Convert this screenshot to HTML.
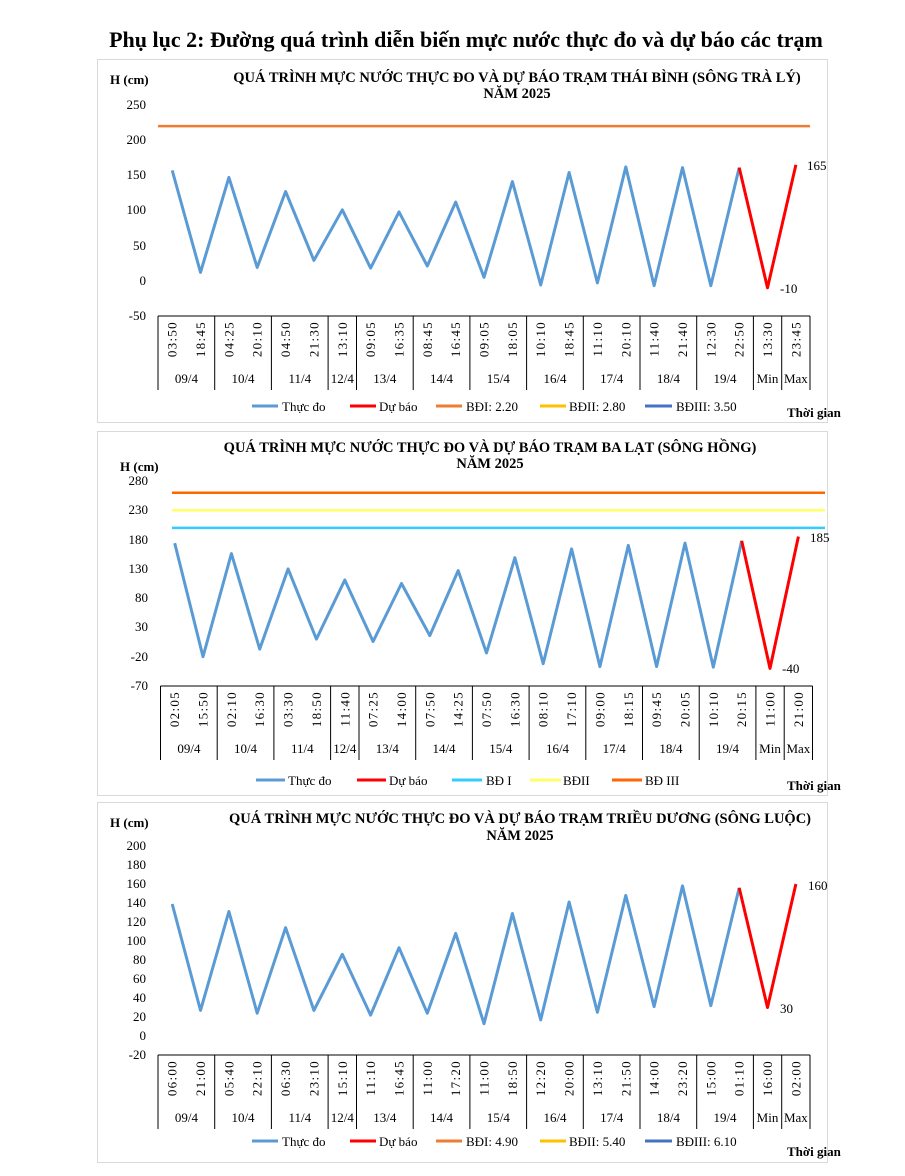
<!DOCTYPE html>
<html><head><meta charset="utf-8"><style>
body{margin:0;background:#fff;}
svg{display:block;font-family:"Liberation Serif",serif;}
.t{font-size:13px;fill:#000;letter-spacing:1.3px}
.k{font-size:13px;fill:#000}
.b{font-weight:bold}
.h{font-weight:bold;font-size:14.5px}
</style></head><body>
<svg width="905" height="1176" viewBox="0 0 905 1176" xmlns="http://www.w3.org/2000/svg">
<rect width="905" height="1176" fill="#fff"/>
<text x="466" y="47" text-anchor="middle" class="b" font-size="22">Phụ lục 2: Đường quá trình diễn biến mực nước thực đo và dự báo các trạm</text>

<!-- CHART 1 -->
<rect x="97.5" y="59.5" width="730" height="363" fill="none" stroke="#d9d9d9"/>
<text x="110" y="84" class="b" font-size="13">H (cm)</text>
<text x="517" y="82" text-anchor="middle" class="h">QUÁ TRÌNH MỰC NƯỚC THỰC ĐO VÀ DỰ BÁO TRẠM THÁI BÌNH (SÔNG TRÀ LÝ)</text>
<text x="517" y="98" text-anchor="middle" class="h">NĂM 2025</text>
<g class="k" text-anchor="end">
<text x="146" y="109">250</text><text x="146" y="144">200</text><text x="146" y="179">150</text><text x="146" y="214">100</text><text x="146" y="250">50</text><text x="146" y="285">0</text><text x="146" y="320">-50</text>
</g>
<line x1="158" y1="126.1" x2="810" y2="126.1" stroke="#ed7d31" stroke-width="2.5"/>
<line x1="158" y1="316" x2="810" y2="316" stroke="#000" stroke-width="1"/>
<polyline fill="none" stroke="#5b9bd5" stroke-width="3" stroke-linejoin="round" points="172.2,170.4 200.5,272.4 228.9,177.4 257.2,267.4 285.6,191.5 313.9,260.4 342.3,209.8 370.6,268.1 399,211.9 427.3,266 455.7,202 484,277.3 512.4,181.6 540.7,285 569.1,172.5 597.4,282.9 625.8,166.9 654.1,285.7 682.5,167.6 710.8,285.7 739.2,167.6"/>
<polyline fill="none" stroke="#ff0000" stroke-width="3" stroke-linejoin="round" points="739.2,167.6 767.5,287.8 795.9,164.8"/>
<text x="807" y="170" class="k">165</text>
<text x="780" y="293" class="k">-10</text>
<g id="xa1">
<g stroke="#000" stroke-width="1">
<line x1="158" y1="316" x2="158" y2="390"/><line x1="214.7" y1="316" x2="214.7" y2="390"/><line x1="271.4" y1="316" x2="271.4" y2="390"/><line x1="328.1" y1="316" x2="328.1" y2="390"/><line x1="356.5" y1="316" x2="356.5" y2="390"/><line x1="413.2" y1="316" x2="413.2" y2="390"/><line x1="469.9" y1="316" x2="469.9" y2="390"/><line x1="526.6" y1="316" x2="526.6" y2="390"/><line x1="583.3" y1="316" x2="583.3" y2="390"/><line x1="640" y1="316" x2="640" y2="390"/><line x1="696.7" y1="316" x2="696.7" y2="390"/><line x1="753.4" y1="316" x2="753.4" y2="390"/><line x1="781.7" y1="316" x2="781.7" y2="390"/><line x1="810" y1="316" x2="810" y2="390"/>
</g>
<g class="k" text-anchor="middle">
<text x="186.4" y="383">09/4</text><text x="243" y="383">10/4</text><text x="299.8" y="383">11/4</text><text x="342.3" y="383">12/4</text><text x="384.8" y="383">13/4</text><text x="441.5" y="383">14/4</text><text x="498.3" y="383">15/4</text><text x="555" y="383">16/4</text><text x="611.7" y="383">17/4</text><text x="668.4" y="383">18/4</text><text x="725" y="383">19/4</text><text x="767.5" y="383">Min</text><text x="795.9" y="383">Max</text>
</g>
</g>
<g class="t" text-anchor="end">
<text transform="translate(176.7,321) rotate(-90)">03:50</text><text transform="translate(205,321) rotate(-90)">18:45</text><text transform="translate(233.4,321) rotate(-90)">04:25</text><text transform="translate(261.7,321) rotate(-90)">20:10</text><text transform="translate(290.1,321) rotate(-90)">04:50</text><text transform="translate(318.4,321) rotate(-90)">21:30</text><text transform="translate(346.8,321) rotate(-90)">13:10</text><text transform="translate(375.1,321) rotate(-90)">09:05</text><text transform="translate(403.5,321) rotate(-90)">16:35</text><text transform="translate(431.8,321) rotate(-90)">08:45</text><text transform="translate(460.2,321) rotate(-90)">16:45</text><text transform="translate(488.5,321) rotate(-90)">09:05</text><text transform="translate(516.9,321) rotate(-90)">18:05</text><text transform="translate(545.2,321) rotate(-90)">10:10</text><text transform="translate(573.6,321) rotate(-90)">18:45</text><text transform="translate(601.9,321) rotate(-90)">11:10</text><text transform="translate(630.3,321) rotate(-90)">20:10</text><text transform="translate(658.6,321) rotate(-90)">11:40</text><text transform="translate(687,321) rotate(-90)">21:40</text><text transform="translate(715.3,321) rotate(-90)">12:30</text><text transform="translate(743.7,321) rotate(-90)">22:50</text><text transform="translate(772,321) rotate(-90)">13:30</text><text transform="translate(800.4,321) rotate(-90)">23:45</text>
</g>
<g class="k">
<line x1="252" y1="406" x2="278" y2="406" stroke="#5b9bd5" stroke-width="3"/><text x="282" y="411">Thực đo</text>
<line x1="350" y1="406" x2="376" y2="406" stroke="#ff0000" stroke-width="3"/><text x="379" y="411">Dự báo</text>
<line x1="436" y1="406" x2="462" y2="406" stroke="#ed7d31" stroke-width="3"/><text x="466" y="411">BĐI: 2.20</text>
<line x1="540" y1="406" x2="566" y2="406" stroke="#ffc000" stroke-width="3"/><text x="569" y="411">BĐII: 2.80</text>
<line x1="645" y1="406" x2="672" y2="406" stroke="#4472c4" stroke-width="3"/><text x="676" y="411">BĐIII: 3.50</text>
</g>
<text x="787" y="417" class="b" font-size="13">Thời gian</text>

<!-- CHART 2 -->
<rect x="97.5" y="431.5" width="730" height="364" fill="none" stroke="#d9d9d9"/>
<text x="120" y="471" class="b" font-size="13">H (cm)</text>
<text x="490" y="452" text-anchor="middle" class="h">QUÁ TRÌNH MỰC NƯỚC THỰC ĐO VÀ DỰ BÁO TRẠM BA LẠT (SÔNG HỒNG)</text>
<text x="490" y="468" text-anchor="middle" class="h">NĂM 2025</text>
<g class="k" text-anchor="end">
<text x="148" y="485">280</text><text x="148" y="514">230</text><text x="148" y="544">180</text><text x="148" y="573">130</text><text x="148" y="602">80</text><text x="148" y="631">30</text><text x="148" y="661">-20</text><text x="148" y="690">-70</text>
</g>
<line x1="172" y1="492.7" x2="825" y2="492.7" stroke="#ff6600" stroke-width="2.5"/>
<line x1="172" y1="510.3" x2="825" y2="510.3" stroke="#ffff66" stroke-width="2.5"/>
<line x1="172" y1="527.9" x2="825" y2="527.9" stroke="#33ccff" stroke-width="2.5"/>
<g transform="translate(2.5,0)">
<line x1="158" y1="686" x2="810" y2="686" stroke="#000"/>
<polyline fill="none" stroke="#5b9bd5" stroke-width="3" stroke-linejoin="round" points="172.2,543.1 200.5,656.7 228.9,553.6 257.2,649.1 285.6,568.9 313.9,639.1 342.3,580 370.6,641.5 399,583.5 427.3,635.6 455.7,570.6 484,653 512.4,557.7 540.7,663.7 569.1,548.9 597.4,666.6 625.8,545.4 654.1,666.6 682.5,543.1 710.8,667.2 739.2,540.8"/>
<polyline fill="none" stroke="#ff0000" stroke-width="3" stroke-linejoin="round" points="739.2,540.8 767.5,668.4 795.9,536.6"/>
<use href="#xa1" transform="translate(0,370)"/>
<g class="t" text-anchor="end">
<text transform="translate(176.7,691) rotate(-90)">02:05</text><text transform="translate(205,691) rotate(-90)">15:50</text><text transform="translate(233.4,691) rotate(-90)">02:10</text><text transform="translate(261.7,691) rotate(-90)">16:30</text><text transform="translate(290.1,691) rotate(-90)">03:30</text><text transform="translate(318.4,691) rotate(-90)">18:50</text><text transform="translate(346.8,691) rotate(-90)">11:40</text><text transform="translate(375.1,691) rotate(-90)">07:25</text><text transform="translate(403.5,691) rotate(-90)">14:00</text><text transform="translate(431.8,691) rotate(-90)">07:50</text><text transform="translate(460.2,691) rotate(-90)">14:25</text><text transform="translate(488.5,691) rotate(-90)">07:50</text><text transform="translate(516.9,691) rotate(-90)">16:30</text><text transform="translate(545.2,691) rotate(-90)">08:10</text><text transform="translate(573.6,691) rotate(-90)">17:10</text><text transform="translate(601.9,691) rotate(-90)">09:00</text><text transform="translate(630.3,691) rotate(-90)">18:15</text><text transform="translate(658.6,691) rotate(-90)">09:45</text><text transform="translate(687,691) rotate(-90)">20:05</text><text transform="translate(715.3,691) rotate(-90)">10:10</text><text transform="translate(743.7,691) rotate(-90)">20:15</text><text transform="translate(772,691) rotate(-90)">11:00</text><text transform="translate(800.4,691) rotate(-90)">21:00</text>
</g>
</g>
<text x="810" y="542" class="k">185</text>
<text x="782" y="673" class="k">-40</text>
<g class="k">
<line x1="256" y1="780" x2="285" y2="780" stroke="#5b9bd5" stroke-width="3"/><text x="288" y="785">Thực đo</text>
<line x1="357" y1="780" x2="386" y2="780" stroke="#ff0000" stroke-width="3"/><text x="389" y="785">Dự báo</text>
<line x1="452" y1="780" x2="482" y2="780" stroke="#33ccff" stroke-width="3"/><text x="486" y="785">BĐ I</text>
<line x1="530" y1="780" x2="561" y2="780" stroke="#ffff66" stroke-width="3"/><text x="563" y="785">BĐII</text>
<line x1="612" y1="780" x2="642" y2="780" stroke="#ff6600" stroke-width="3"/><text x="645" y="785">BĐ III</text>
</g>
<text x="787" y="790" class="b" font-size="13">Thời gian</text>

<!-- CHART 3 -->
<rect x="97.5" y="802.5" width="730" height="360" fill="none" stroke="#d9d9d9"/>
<text x="110" y="827" class="b" font-size="13">H (cm)</text>
<text x="520" y="823" text-anchor="middle" class="h">QUÁ TRÌNH MỰC NƯỚC THỰC ĐO VÀ DỰ BÁO TRẠM TRIỀU DƯƠNG  (SÔNG LUỘC)</text>
<text x="520" y="840" text-anchor="middle" class="h">NĂM 2025</text>
<g class="k" text-anchor="end">
<text x="146" y="850">200</text><text x="146" y="869">180</text><text x="146" y="888">160</text><text x="146" y="907">140</text><text x="146" y="926">120</text><text x="146" y="945">100</text><text x="146" y="964">80</text><text x="146" y="983">60</text><text x="146" y="1002">40</text><text x="146" y="1021">20</text><text x="146" y="1040">0</text><text x="146" y="1059">-20</text>
</g>
<line x1="158" y1="1055" x2="810" y2="1055" stroke="#000"/>
<polyline fill="none" stroke="#5b9bd5" stroke-width="3" stroke-linejoin="round" points="172.2,904 200.5,1010.4 228.9,911.5 257.2,1013.2 285.6,927.7 313.9,1010.4 342.3,954.3 370.6,1015.1 399,947.7 427.3,1013.2 455.7,933.4 484,1023.7 512.4,913.5 540.7,1019.9 569.1,902 597.4,1012.3 625.8,895.4 654.1,1006.6 682.5,885.9 710.8,1005.6 739.2,887.8"/>
<polyline fill="none" stroke="#ff0000" stroke-width="3" stroke-linejoin="round" points="739.2,887.8 767.5,1007.5 795.9,884"/>
<text x="808" y="890" class="k">160</text>
<text x="780" y="1013" class="k">30</text>
<use href="#xa1" transform="translate(0,739)"/>
<g class="t" text-anchor="end">
<text transform="translate(176.7,1060) rotate(-90)">06:00</text><text transform="translate(205,1060) rotate(-90)">21:00</text><text transform="translate(233.4,1060) rotate(-90)">05:40</text><text transform="translate(261.7,1060) rotate(-90)">22:10</text><text transform="translate(290.1,1060) rotate(-90)">06:30</text><text transform="translate(318.4,1060) rotate(-90)">23:10</text><text transform="translate(346.8,1060) rotate(-90)">15:10</text><text transform="translate(375.1,1060) rotate(-90)">11:10</text><text transform="translate(403.5,1060) rotate(-90)">16:45</text><text transform="translate(431.8,1060) rotate(-90)">11:00</text><text transform="translate(460.2,1060) rotate(-90)">17:20</text><text transform="translate(488.5,1060) rotate(-90)">11:00</text><text transform="translate(516.9,1060) rotate(-90)">18:50</text><text transform="translate(545.2,1060) rotate(-90)">12:20</text><text transform="translate(573.6,1060) rotate(-90)">20:00</text><text transform="translate(601.9,1060) rotate(-90)">13:10</text><text transform="translate(630.3,1060) rotate(-90)">21:50</text><text transform="translate(658.6,1060) rotate(-90)">14:00</text><text transform="translate(687,1060) rotate(-90)">23:20</text><text transform="translate(715.3,1060) rotate(-90)">15:00</text><text transform="translate(743.7,1060) rotate(-90)">01:10</text><text transform="translate(772,1060) rotate(-90)">16:00</text><text transform="translate(800.4,1060) rotate(-90)">02:00</text>
</g>
<g class="k">
<line x1="252" y1="1141" x2="278" y2="1141" stroke="#5b9bd5" stroke-width="3"/><text x="282" y="1146">Thực đo</text>
<line x1="350" y1="1141" x2="376" y2="1141" stroke="#ff0000" stroke-width="3"/><text x="379" y="1146">Dự báo</text>
<line x1="436" y1="1141" x2="462" y2="1141" stroke="#ed7d31" stroke-width="3"/><text x="466" y="1146">BĐI: 4.90</text>
<line x1="540" y1="1141" x2="566" y2="1141" stroke="#ffc000" stroke-width="3"/><text x="569" y="1146">BĐII: 5.40</text>
<line x1="645" y1="1141" x2="672" y2="1141" stroke="#4472c4" stroke-width="3"/><text x="676" y="1146">BĐIII: 6.10</text>
</g>
<text x="787" y="1156" class="b" font-size="13">Thời gian</text>
</svg>
</body></html>
